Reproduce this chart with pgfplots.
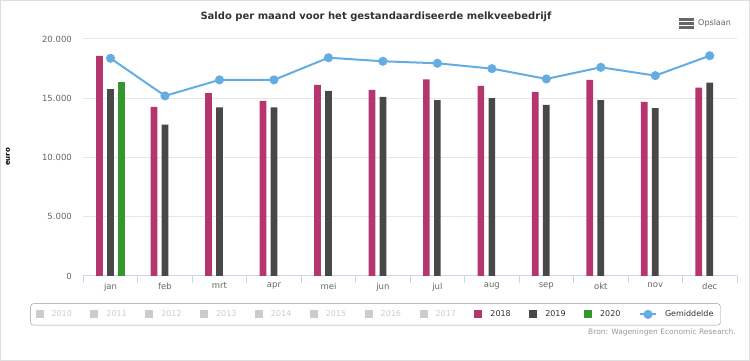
\documentclass[border=0pt]{standalone}
\usepackage{fontspec}
\setmainfont{DejaVu Sans}
\usepackage{pgfplots}
\pgfplotsset{compat=1.18}
\definecolor{c18}{HTML}{B5366E}
\definecolor{c19}{HTML}{484848}
\definecolor{c20}{HTML}{35972B}
\definecolor{cline}{HTML}{64ADE2}
\definecolor{chid}{HTML}{CCCCCC}
\definecolor{c33}{HTML}{333333}
\definecolor{c66}{HTML}{666666}
\definecolor{c99}{HTML}{999999}
\definecolor{caxis}{HTML}{CCD6EB}
\definecolor{cgrid}{HTML}{E6E6E6}
\pgfplotsset{
  sq legend/.style={legend image code/.code={\fill[##1, sharp corners] (0pt,-4pt) rectangle (8pt,4pt);}},
  ln legend/.style={legend image code/.code={\draw[##1, mark=none, sharp corners] (-2pt,0pt) -- (14pt,0pt); \fill[cline] (6pt,0pt) circle (3.5pt);}},
}
\begin{document}
\begin{tikzpicture}
\path[use as bounding box] (0pt,0pt) rectangle (750pt,361pt);
\draw[color=black!13, line width=1.2pt] (0.6pt,0.6pt) rectangle (749.4pt,360.4pt);
\node[font=\bfseries\fontsize{10}{12}\selectfont, text=c33] at (376pt,344pt) {Saldo per maand voor het gestandaardiseerde melkveebedrijf};
\fill[c66] (679pt,343pt) rectangle (694pt,340pt);
\fill[c66] (679pt,339pt) rectangle (694pt,336pt);
\fill[c66] (679pt,335pt) rectangle (694pt,332pt);
\node[font=\fontsize{8}{9}\selectfont, text=c66, anchor=west, inner sep=0pt] at (698pt,337.5pt) {Opslaan};
\node[rotate=90, font=\bfseries\fontsize{7}{8}\selectfont, text=black, inner sep=0pt] at (8pt,204pt) {euro};
\node[anchor=east, font=\fontsize{7.5}{9}\selectfont, text=c99, inner sep=0pt] at (736pt,29pt) {Bron: Wageningen Economic Research.};
\begin{axis}[
  at={(83.3pt,85pt)}, anchor=south west,
  scale only axis, width=653.7pt, height=237pt,
  xmin=-0.5, xmax=11.5, ymin=0, ymax=20000,
  axis x line*=bottom, axis y line*=left,
  y axis line style={draw=none},
  x axis line style={draw=caxis, -, line width=1pt},
  xtick={0,...,11},
  xticklabels={jan,feb,mrt,apr,mei,jun,jul,aug,sep,okt,nov,dec},
  minor xtick={-0.5,0.5,...,11.5},
  major x tick style={draw=none},
  minor x tick style={draw=caxis, line width=1pt},
  minor tick length=7pt,
  tick align=outside,
  ytick={0,5000,10000,15000,20000},
  ytick style={draw=none},
  ymajorgrids, grid style={cgrid, line width=1pt},
  scaled y ticks=false,
  /pgf/number format/1000 sep={.},
  /pgf/number format/assume math mode=true,
  yticklabel style={font=\fontsize{8.5}{10}\selectfont, text=c66, inner sep=0pt, xshift=-7pt},
  xticklabel style={font=\fontsize{8.5}{10}\selectfont, text=c66, inner sep=0pt, yshift=-2.5pt},
  legend columns=-1,
  legend style={at={(0.447,-0.162)}, anchor=center, draw=c99, rounded corners=3pt,
    font=\fontsize{8}{10}\selectfont, text=c33, inner xsep=5pt, inner ysep=5pt,
    /tikz/every odd column/.append style={column sep=6pt},
    /tikz/every even column/.append style={column sep=16.5pt}},
  legend cell align=left,
]
\addlegendimage{sq legend, fill=chid, draw=none}\addlegendentry{\textcolor{chid}{2010}}
\addlegendimage{sq legend, fill=chid, draw=none}\addlegendentry{\textcolor{chid}{2011}}
\addlegendimage{sq legend, fill=chid, draw=none}\addlegendentry{\textcolor{chid}{2012}}
\addlegendimage{sq legend, fill=chid, draw=none}\addlegendentry{\textcolor{chid}{2013}}
\addlegendimage{sq legend, fill=chid, draw=none}\addlegendentry{\textcolor{chid}{2014}}
\addlegendimage{sq legend, fill=chid, draw=none}\addlegendentry{\textcolor{chid}{2015}}
\addlegendimage{sq legend, fill=chid, draw=none}\addlegendentry{\textcolor{chid}{2016}}
\addlegendimage{sq legend, fill=chid, draw=none}\addlegendentry{\textcolor{chid}{2017}}
\addplot[ybar, bar width=6.7pt, bar shift=-11pt, fill=c18, draw=none, sq legend] coordinates {
(0,18570) (1,14280) (2,15430) (3,14780) (4,16130) (5,15710) (6,16600) (7,16040) (8,15540) (9,16550) (10,14700) (11,15900)};
\addlegendentry{2018}
\addplot[ybar, bar width=6.7pt, bar shift=0pt, fill=c19, draw=none, sq legend] coordinates {
(0,15770) (1,12770) (2,14220) (3,14220) (4,15620) (5,15120) (6,14840) (7,15010) (8,14450) (9,14840) (10,14170) (11,16320)};
\addlegendentry{2019}
\addplot[ybar, bar width=6.7pt, bar shift=11pt, fill=c20, draw=none, sq legend] coordinates {
(0,16380)};
\addlegendentry{2020}
\addplot[sharp plot, color=cline, line width=2pt, mark=*, mark size=3.5pt, mark options={solid, fill=cline, draw=cline}, ln legend] coordinates {
(0,18370) (1,15200) (2,16550) (3,16550) (4,18420) (5,18120) (6,17950) (7,17500) (8,16630) (9,17610) (10,16910) (11,18590)};
\addlegendentry{Gemiddelde}
\end{axis}
\end{tikzpicture}
\end{document}
